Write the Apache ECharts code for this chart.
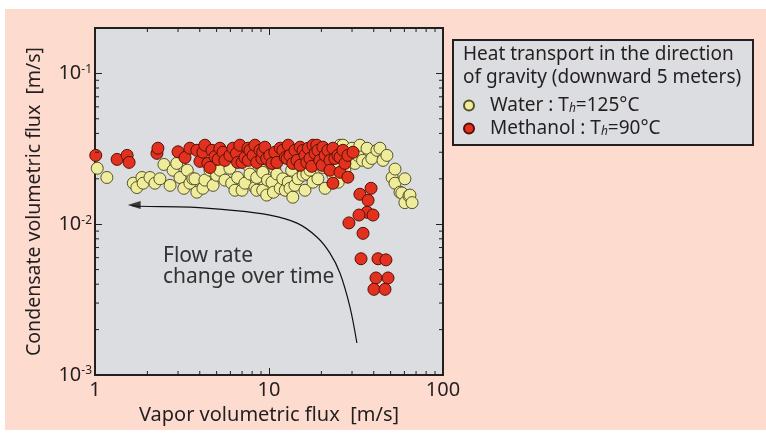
<!DOCTYPE html>
<html><head><meta charset="utf-8">
<script src="https://cdn.jsdelivr.net/npm/echarts@6/dist/echarts.min.js"></script>
<style>html,body{margin:0;padding:0;background:#fff}#c{width:766px;height:435px}</style>
</head><body><div id="c"></div>
<script>
// ---- data ----
var waterPoints = [
 [1.03,0.0235],[1.17,0.0204],[1.66,0.0187],[1.74,0.0175],[1.86,0.0204],[1.89,0.0187],[2.07,0.0204],[2.21,0.0187],
 [2.36,0.0200],[2.49,0.0249],[2.70,0.0181],[2.81,0.0228],[2.95,0.0253],[3.08,0.0204],[3.24,0.0173],[3.39,0.0228],
 [3.51,0.0187],[3.65,0.0200],[3.75,0.0200],[3.85,0.0163],[4.17,0.0173],[4.28,0.0196],[4.58,0.0228],[4.77,0.0181],
 [5.0,0.0211],[5.22,0.0228],[5.58,0.0196],[5.96,0.0235],[6.1,0.0187],[6.37,0.0168],[6.6,0.0204],[7.0,0.0168],
 [7.27,0.0187],[7.57,0.0246],[7.77,0.0215],[8.3,0.0175],[8.5,0.0204],[8.5,0.0168],[9.1,0.0228],[9.2,0.0168],
 [9.2,0.0221],[9.7,0.0156],[9.8,0.0196],[10.4,0.0190],[10.6,0.0163],[10.8,0.0232],[11.1,0.0215],[11.6,0.0173],
 [12.0,0.0200],[12.4,0.0168],[12.9,0.0190],[13.2,0.0173],[13.5,0.0228],[13.7,0.0151],[14.1,0.0181],[14.7,0.0200],
 [15.7,0.0211],[16.1,0.0168],[16.5,0.0215],[17.2,0.0228],[17.9,0.0190],[19.1,0.0200],[20.4,0.0238],[21.0,0.0173],
 [21.8,0.0278],[22.4,0.0228],[23.3,0.0211],[23.9,0.0309],[24.6,0.0253],[25.0,0.0190],[25.6,0.0334],[26.6,0.0334],
 [27.3,0.0228],[28.0,0.0300],[29.2,0.0265],[30.0,0.0319],[31.2,0.0253],[32.4,0.0286],[33.3,0.0334],[34.5,0.0265],
 [36.6,0.0319],[37.1,0.0257],[39.0,0.0273],[41.7,0.0309],[43.4,0.0319],[45.2,0.0265],[47.6,0.0286],[51.0,0.0204],
 [53.0,0.0232],[53.0,0.0187],[56.6,0.0163],[58.0,0.0161],[60.4,0.0200],[60.4,0.0139],[63.7,0.0154],[64.6,0.0156],
 [66.4,0.0139]
];
var methanolPoints = [
 [1.01,0.0286],[1.34,0.0269],[1.53,0.0286],[1.57,0.0257],[2.27,0.0295],[2.30,0.0319],[3.0,0.0302],[3.29,0.0277],
 [3.51,0.0319],[3.85,0.0309],[4.01,0.0261],[4.17,0.0300],[4.28,0.0334],[4.45,0.0253],[4.58,0.0238],[4.70,0.0309],
 [4.89,0.0281],[5.1,0.0269],[5.22,0.0319],[5.44,0.0300],[5.58,0.0265],[5.96,0.0286],[6.2,0.0319],[6.5,0.0295],
 [6.6,0.0257],[6.8,0.0334],[7.0,0.0257],[7.27,0.0277],[7.57,0.0319],[7.6,0.0265],[7.77,0.0309],[8.1,0.0286],
 [8.3,0.0334],[8.5,0.0257],[8.87,0.0309],[9.1,0.0273],[9.2,0.0300],[9.47,0.0324],[9.7,0.0273],[10.1,0.0286],
 [10.4,0.0253],[10.8,0.0300],[11.1,0.0257],[11.6,0.0319],[12.0,0.0309],[12.4,0.0277],[12.7,0.0273],[12.9,0.0334],
 [13.2,0.0286],[13.7,0.0253],[14.1,0.0309],[14.5,0.0265],[15.1,0.0324],[15.1,0.0246],[15.7,0.0309],[16.1,0.0286],
 [16.5,0.0257],[16.8,0.0319],[17.2,0.0273],[17.6,0.0242],[17.9,0.0334],[18.4,0.0295],[18.8,0.0334],[19.1,0.0309],
 [19.6,0.0265],[20.2,0.0246],[20.4,0.0324],[21.0,0.0286],[21.8,0.0309],[22.4,0.0265],[22.4,0.0228],[23.3,0.0319],
 [23.3,0.0187],[23.9,0.0273],[24.9,0.0286],[25.6,0.0278],[25.6,0.0221],[26.6,0.0309],[27.3,0.0253],[28.4,0.0286],
 [28.4,0.0205],[30.4,0.0300],[33.3,0.0158],[37.1,0.0144],[38.6,0.0173],[36.6,0.0120],[32.9,0.0115],[39.6,0.0115],
 [28.8,0.0102],[34.7,0.0087],[33.8,0.0059],[42.3,0.0059],[47.0,0.0058],[41.2,0.0044],[48.3,0.0044],[40.1,0.0037],
 [46.4,0.0037]
];
var trendCurve = [[32.0,0.00163],[29.2,0.00282],[25.6,0.00473],[22.4,0.00643],[18.9,0.0082],[14.5,0.01016],
 [10.1,0.01148],[5.97,0.0124],[3.52,0.01298],[1.81,0.01315],[1.62,0.0133]];
var arrowTip = [[1.55,0.0134]];
var xMinorTicks = [2,3,4,5,6,7,8,9,20,30,40,50,60,70,80,90];
var yMinorTicks = [0.002,0.003,0.004,0.005,0.006,0.007,0.008,0.009,0.02,0.03,0.04,0.05,0.06,0.07,0.08,0.09];
var xRange = [1,100];
var yRange = [0.001,0.2];
var seriesNames = ['Water','Methanol'];
var legendLabels = {Water:'Water : T{sub|h}=125°C', Methanol:'Methanol : T{sub|h}=90°C'};
var legendTitle = ['Heat transport in the direction','of gravity (downward 5 meters)'];

// ---- chart ----
var FONT = '"Noto Sans",sans-serif';
var TXT = '#231f20';
var chart = echarts.init(document.getElementById('c'), null, {renderer:'canvas'});

function isPow10(v){var l=Math.log10(v);return Math.abs(l-Math.round(l))<1e-6;}

function line(x1,y1,x2,y2){
  return {type:'line', shape:{x1:x1,y1:y1,x2:x2,y2:y2}, style:{stroke:'#231f20',lineWidth:1}};
}
function xTickRender(params, api){
  var v = api.value(0);
  var pb = api.coord([v, yRange[0]]), pt = api.coord([v, yRange[1]]);
  return {type:'group', children:[line(pb[0],pb[1],pb[0],pb[1]-4), line(pt[0],pt[1],pt[0],pt[1]+4)]};
}
function yTickRender(params, api){
  var v = api.value(1);
  var pl = api.coord([xRange[0], v]), pr = api.coord([xRange[1], v]);
  return {type:'group', children:[line(pl[0],pl[1],pl[0]+4,pl[1]), line(pr[0],pr[1],pr[0]-4,pr[1])]};
}

var axisCommon = {
  type:'log', logBase:10,
  axisLine:{show:true, lineStyle:{color:'#231f20', width:2}},
  axisTick:{show:true, inside:true, length:7, lineStyle:{color:'#231f20', width:1}},
  splitLine:{show:false}
};

var option = {
  backgroundColor:'#ffffff',
  animation:false,
  textStyle:{fontFamily:FONT},
  graphic:[
    {type:'rect', z:-10, silent:true, shape:{x:5,y:9,width:761,height:421}, style:{fill:'#fddccf'}},
    {type:'rect', z:1, silent:true, shape:{x:453,y:40,width:300,height:105}, style:{fill:'#dcdde0', stroke:'#231f20', lineWidth:2}},
    {type:'text', z:2, left:463, top:45, style:{text:legendTitle[0], fill:TXT, font:'19px '+FONT}},
    {type:'text', z:2, left:463, top:68, style:{text:legendTitle[1], fill:TXT, font:'19px '+FONT}},
    {type:'text', z:5, left:163, top:246, style:{text:'Flow rate\nchange over time', fill:'#333', font:'21px '+FONT, lineHeight:21}}
  ],
  legend:{
    data:seriesNames, orient:'vertical', left:463, top:96, itemWidth:10, itemHeight:10, itemGap:4, padding:0, z:3,
    icon:'circle',
    formatter:function(n){return legendLabels[n];},
    textStyle:{fontSize:19, color:TXT, fontFamily:FONT, padding:[0,0,0,11],
      rich:{sub:{fontSize:12, fontStyle:'italic', color:TXT, fontFamily:FONT, verticalAlign:'bottom', padding:[6,0,0,0]}}}
  },
  grid:{left:95, top:28, width:348, height:347, show:true, backgroundColor:'#dcdde0', borderColor:'#231f20', borderWidth:2},
  xAxis:[
    Object.assign({}, axisCommon, {min:xRange[0], max:xRange[1], position:'bottom',
      name:'Vapor volumetric flux  [m/s]', nameLocation:'middle', nameGap:29,
      nameTextStyle:{fontSize:20, color:TXT, fontFamily:FONT},
      axisLabel:{fontSize:20, color:TXT, margin:5, fontFamily:FONT, showMaxLabel:true,
        formatter:function(v){return isPow10(v)?String(Math.round(v)):'';}}}),
    Object.assign({}, axisCommon, {min:xRange[0], max:xRange[1], position:'top', axisLabel:{show:false}})
  ],
  yAxis:[
    Object.assign({}, axisCommon, {min:yRange[0], max:yRange[1], position:'left',
      name:'Condensate volumetric flux  [m/s]', nameLocation:'middle', nameGap:51,
      nameTextStyle:{fontSize:19.5, color:TXT, fontFamily:FONT},
      axisLabel:{fontSize:20, color:TXT, margin:3, fontFamily:FONT, showMaxLabel:false,
        formatter:function(v){if(!isPow10(v))return '';return '10{s|-'+Math.abs(Math.round(Math.log10(v)))+'}';},
        rich:{s:{fontSize:12, color:TXT, fontFamily:FONT, verticalAlign:'top', padding:[0,0,7,0]}}}}),
    Object.assign({}, axisCommon, {min:yRange[0], max:yRange[1], position:'right', axisLabel:{show:false}})
  ],
  series:[
    {name:'Water', type:'scatter', data:waterPoints, symbolSize:12, z:3,
      itemStyle:{color:'#efed9b', borderColor:'#55522a', borderWidth:1, opacity:1}},
    {name:'Methanol', type:'scatter', data:methanolPoints, symbolSize:12, z:4,
      itemStyle:{color:'#e2321f', borderColor:'#561006', borderWidth:1, opacity:1}},
    {type:'line', data:trendCurve, smooth:0.35, symbol:'none', z:5, silent:true,
      lineStyle:{color:'#111', width:1.2}},
    {type:'scatter', data:arrowTip, symbol:'path://M0,4L13,0L13,8Z', symbolSize:[13,8], symbolOffset:[6,0], z:5, silent:true,
      itemStyle:{color:'#111'}},
    {type:'custom', data:xMinorTicks.map(function(v){return [v, yRange[0]];}), renderItem:xTickRender, z:6, silent:true},
    {type:'custom', data:yMinorTicks.map(function(v){return [xRange[0], v];}), renderItem:yTickRender, z:6, silent:true}
  ]
};
chart.setOption(option);
</script></body></html>
